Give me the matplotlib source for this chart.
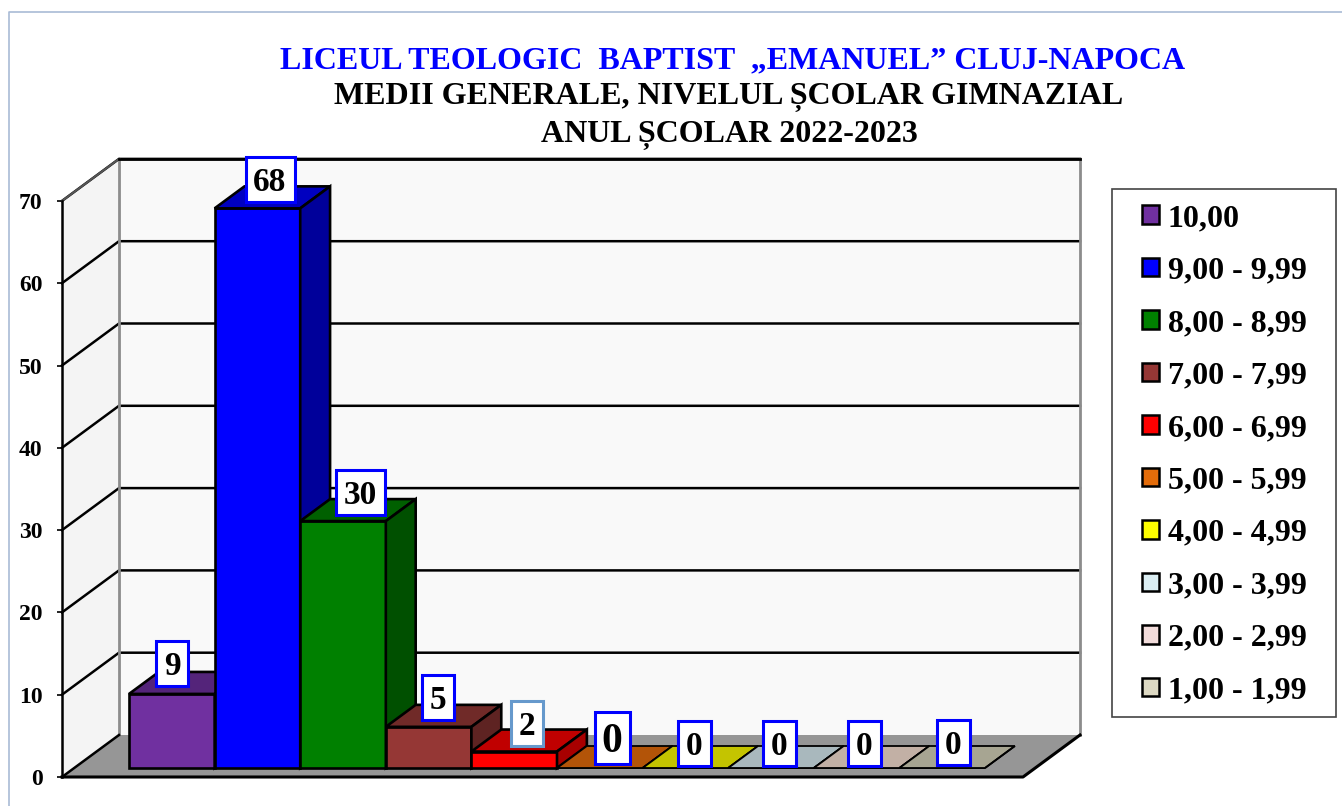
import matplotlib.pyplot as plt
from matplotlib.patches import Polygon, Rectangle, Patch

categories = ['10,00', '9,00 - 9,99', '8,00 - 8,99', '7,00 - 7,99', '6,00 - 6,99',
              '5,00 - 5,99', '4,00 - 4,99', '3,00 - 3,99', '2,00 - 2,99', '1,00 - 1,99']
values = [9, 68, 30, 5, 2, 0, 0, 0, 0, 0]
yticks = [0, 10, 20, 30, 40, 50, 60, 70]

front_cols = ['#7030a0', '#0000ff', '#008000', '#953735', '#ff0000',
              '#e36c0a', '#ffff00', '#dbeef3', '#f2dcdb', '#ddd9c3']
top_cols = ['#54247a', '#0000c0', '#006000', '#702a28', '#c00000',
            '#b35408', '#c4c400', '#a9b8bd', '#c2b0a5', '#a7a592']
side_cols = ['#47206a', '#00009a', '#005000', '#5e2322', '#a80000',
             '#96460a', '#a0a000', '#90a0a5', '#a89a90', '#908e7e']

# label box centre and size in pixels, font size
label_pos = [(172, 663), (270, 179), (360, 492), (438, 697), (527, 723),
             (612, 738), (694, 743), (779, 743), (864, 743), (953, 742)]
label_size = [(32, 45), (49, 45), (49, 45), (32, 45), (32, 45),
              (35, 52), (33, 45), (33, 45), (33, 45), (33, 45)]
label_font = [24, 24, 24, 24, 24, 30, 24, 24, 24, 24]
label_edge = ['#0000ff'] * 4 + ['#6699cc'] + ['#0000ff'] * 5

W, H = 1342, 806
XU, YU = 85.6, 8.23     # pixels per category / per value
X0, Y0 = 116.8, 777     # pixel of x=0 and v=0 on the front plane
DX, DY = 57 / XU, 42 / YU   # depth of the box
XL, XR = (62 - X0) / XU, (1023 - X0) / XU
D1, D2 = 9 / 42, 31 / 42    # where the bars sit in the depth


def px(x, y):
    return (x - X0) / XU, (Y0 - y) / YU


def proj(x, v, d):
    return x + d * DX, v + d * DY


plt.rcParams['font.family'] = ['Liberation Serif', 'DejaVu Serif']
plt.rcParams['font.weight'] = 'bold'

fig = plt.figure(figsize=(W / 100, H / 100), dpi=100)
ax = fig.add_axes([0, 0, 1, 1])
ax.set_xlim(-X0 / XU, (W - X0) / XU)
ax.set_ylim((Y0 - H) / YU, Y0 / YU)

# outer frame of the picture
ax.plot(*zip(px(9, 806), px(9, 12), px(1342, 12)), color='#a9bbd6', lw=1.2)

# walls and floor
ymax = yticks[-1]
ax.add_patch(Polygon([proj(XL, 0, 0), proj(XL, 0, 1), proj(XL, ymax, 1), proj(XL, ymax, 0)],
                     fc='#f4f4f4', ec='none', zorder=1))
ax.add_patch(Polygon([proj(XL, 0, 1), proj(XR, 0, 1), proj(XR, ymax, 1), proj(XL, ymax, 1)],
                     fc='#f9f9f9', ec='none', zorder=1))
ax.add_patch(Polygon([proj(XL, 0, 0), proj(XR, 0, 0), proj(XR, 0, 1), proj(XL, 0, 1)],
                     fc='#969696', ec='none', zorder=1))

for v in yticks[1:]:
    ax.plot(*zip(proj(XL, v, 0), proj(XL, v, 1), proj(XR, v, 1)),
            color='black', lw=1.8, zorder=2, solid_joinstyle='miter')
for x in (XL, XR):
    ax.plot(*zip(proj(x, 0, 1), proj(x, ymax, 1)), color='#8c8c8c', lw=2, zorder=2)
ax.plot(*zip(proj(XL, ymax, 0), proj(XL, ymax, 1)), color='#555555', lw=1.5, zorder=2)
ax.plot(*zip(proj(XL, ymax, 1), proj(XR, ymax, 1)), color='black', lw=2, zorder=2)
ax.plot(*zip(proj(XL, 0, 0), proj(XL, 0, 1)), color='black', lw=1.8, zorder=2)
ax.plot(*zip(proj(XL, 0, 0), proj(XR, 0, 0), proj(XR, 0, 1)), color='black', lw=2.2, zorder=2)

# the bars
for i, val in enumerate(values):
    a = proj(i, 0, D1)
    b = proj(i + 1, 0, D1)
    c = proj(i + 1, val, D1)
    d = proj(i, val, D1)
    e = proj(i, val, D2)
    f = proj(i + 1, val, D2)
    g = proj(i + 1, 0, D2)
    lw = 1.9 if val > 0 else 1.3
    ax.add_patch(Polygon([a, b, c, d], fc=front_cols[i], ec='black', lw=lw, zorder=3 + i * 0.1))
    ax.add_patch(Polygon([d, c, f, e], fc=top_cols[i], ec='black', lw=lw, zorder=3 + i * 0.1))
    ax.add_patch(Polygon([b, g, f, c], fc=side_cols[i], ec='black', lw=lw, zorder=3 + i * 0.1))

# value labels
for i, val in enumerate(values):
    cx, cy = px(*label_pos[i])
    w, h = label_size[i]
    ax.add_patch(Rectangle((cx - w / XU / 2, cy - h / YU / 2), w / XU, h / YU, fc='white',
                           ec=label_edge[i], lw=2.2, zorder=5))
    ax.text(cx, cy, str(val), fontsize=label_font[i], ha='center', va='center_baseline', zorder=6)

# value axis
for s in ('top', 'right', 'bottom'):
    ax.spines[s].set_visible(False)
ax.spines['left'].set_position(('data', XL))
ax.spines['left'].set_bounds(0, ymax)
ax.spines['left'].set_linewidth(1.8)
ax.set_xticks([])
ax.set_yticks(yticks)
ax.tick_params(axis='y', length=3.6, width=1.2, pad=10.5, labelsize=17)
ax.patch.set_visible(False)

# titles
ax.text(*px(733, 61), 'LICEUL TEOLOGIC  BAPTIST  „EMANUEL” CLUJ-NAPOCA', color='#0000ff',
        fontsize=23, ha='center', va='center')
ax.text(*px(729, 98), 'MEDII GENERALE, NIVELUL ȘCOLAR GIMNAZIAL', fontsize=23,
        ha='center', va='center')
ax.text(*px(729, 135), 'ANUL ȘCOLAR 2022-2023', fontsize=23, ha='center', va='center')

# legend
lx, ly = px(1112, 717)
lx2, ly2 = px(1336, 189)
ax.add_patch(Rectangle((lx, ly), lx2 - lx, ly2 - ly, fc='white', ec='#444444', lw=1.2, zorder=7))
handles = [Patch(fc=c, ec='black', lw=1.8) for c in front_cols]
leg = ax.legend(handles, categories, loc='upper left', bbox_to_anchor=(1142 / W, 1 - 204 / H),
                bbox_transform=fig.transFigure, frameon=False, fontsize=23, borderpad=0,
                borderaxespad=0, handlelength=0.52, handleheight=0.52, handletextpad=0.28,
                labelspacing=0.735)
leg.set_zorder(8)

fig.savefig('out.png', dpi=100)
